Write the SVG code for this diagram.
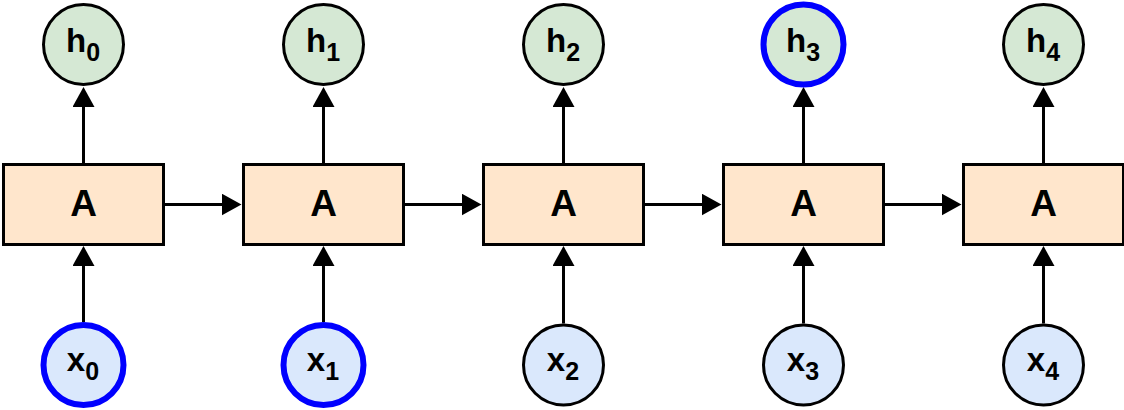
<svg xmlns="http://www.w3.org/2000/svg" width="1124" height="410" viewBox="0 0 1124 410">
<style>
.box{fill:#ffe6cc;stroke:#000;stroke-width:3}
.h{fill:#d5e8d4;stroke:#000;stroke-width:3}
.x{fill:#dae8fc;stroke:#000;stroke-width:3}
.sel{stroke:#0000ff;stroke-width:6}
text{font-family:"Liberation Sans",Arial,sans-serif;font-weight:bold;font-size:33px;text-anchor:middle;fill:#000}
.lbl{font-size:37px}
.sub{font-size:25px}
.edge{stroke:#000;stroke-width:3;fill:none;marker-end:url(#arr)}
</style>
<defs>
<marker id="arr" viewBox="0 0 20 22" markerWidth="20" markerHeight="22" refX="5" refY="11" orient="auto" markerUnits="userSpaceOnUse">
<path d="M0,0 L20,11 L0,22 Z" fill="#000"/>
</marker>
</defs>
<g id="connectors">
<line class="edge" x1="83.5" y1="164.5" x2="83.5" y2="102"/>
<line class="edge" x1="323.5" y1="164.5" x2="323.5" y2="102"/>
<line class="edge" x1="563.5" y1="164.5" x2="563.5" y2="102"/>
<line class="edge" x1="803.5" y1="164.5" x2="803.5" y2="102"/>
<line class="edge" x1="1043.5" y1="164.5" x2="1043.5" y2="102"/>
<line class="edge" x1="83.5" y1="322" x2="83.5" y2="261"/>
<line class="edge" x1="323.5" y1="322" x2="323.5" y2="261"/>
<line class="edge" x1="563.5" y1="323.5" x2="563.5" y2="261"/>
<line class="edge" x1="803.5" y1="323.5" x2="803.5" y2="261"/>
<line class="edge" x1="1043.5" y1="323.5" x2="1043.5" y2="261"/>
<line class="edge" x1="163.5" y1="204.5" x2="226.5" y2="204.5"/>
<line class="edge" x1="403.5" y1="204.5" x2="466.5" y2="204.5"/>
<line class="edge" x1="643.5" y1="204.5" x2="706.5" y2="204.5"/>
<line class="edge" x1="883.5" y1="204.5" x2="946.5" y2="204.5"/>
</g>
<g id="A0"><rect class="box" x="3.5" y="164.5" width="160" height="80"/><text class="lbl" x="83.5" y="216">A</text></g>
<g id="A1"><rect class="box" x="243.5" y="164.5" width="160" height="80"/><text class="lbl" x="323.5" y="216">A</text></g>
<g id="A2"><rect class="box" x="483.5" y="164.5" width="160" height="80"/><text class="lbl" x="563.5" y="216">A</text></g>
<g id="A3"><rect class="box" x="723.5" y="164.5" width="160" height="80"/><text class="lbl" x="803.5" y="216">A</text></g>
<g id="A4"><rect class="box" x="963.5" y="164.5" width="160" height="80"/><text class="lbl" x="1043.5" y="216">A</text></g>
<g id="h0"><circle class="h" cx="83.5" cy="44.5" r="40"/><text x="83" y="52">h<tspan class="sub" dy="9">0</tspan></text></g>
<g id="h1"><circle class="h" cx="323.5" cy="44.5" r="40"/><text x="323" y="52">h<tspan class="sub" dy="9">1</tspan></text></g>
<g id="h2"><circle class="h" cx="563.5" cy="44.5" r="40"/><text x="563" y="52">h<tspan class="sub" dy="9">2</tspan></text></g>
<g id="h3"><circle class="h sel" cx="803.5" cy="44.5" r="40"/><text x="803" y="52">h<tspan class="sub" dy="9">3</tspan></text></g>
<g id="h4"><circle class="h" cx="1043.5" cy="44.5" r="40"/><text x="1043" y="52">h<tspan class="sub" dy="9">4</tspan></text></g>
<g id="x0"><circle class="x sel" cx="83.5" cy="365" r="40"/><text x="83" y="371">x<tspan class="sub" dy="9">0</tspan></text></g>
<g id="x1"><circle class="x sel" cx="323.5" cy="365" r="40"/><text x="323" y="371">x<tspan class="sub" dy="9">1</tspan></text></g>
<g id="x2"><circle class="x" cx="563.5" cy="365" r="40"/><text x="563" y="371">x<tspan class="sub" dy="9">2</tspan></text></g>
<g id="x3"><circle class="x" cx="803.5" cy="365" r="40"/><text x="803" y="371">x<tspan class="sub" dy="9">3</tspan></text></g>
<g id="x4"><circle class="x" cx="1043.5" cy="365" r="40"/><text x="1043" y="371">x<tspan class="sub" dy="9">4</tspan></text></g>
</svg>
